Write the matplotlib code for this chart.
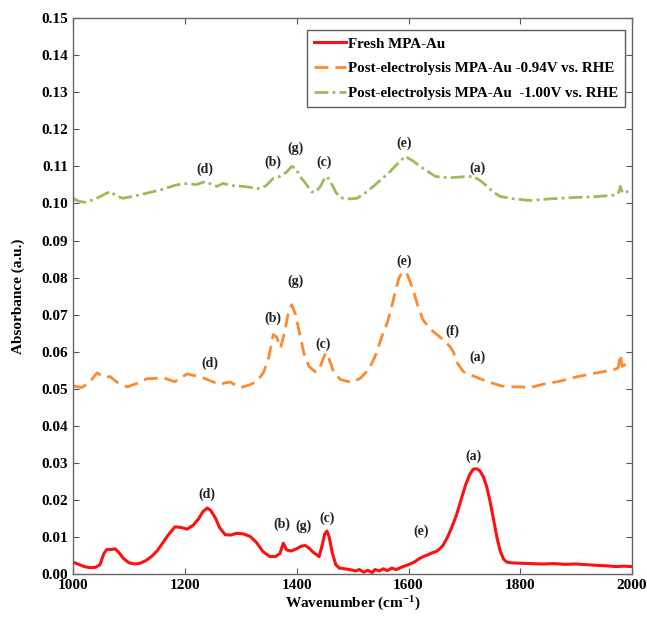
import matplotlib
matplotlib.use("Agg")
import matplotlib.pyplot as plt

plt.rcParams['font.family'] = ['Liberation Serif', 'DejaVu Serif']
plt.rcParams['font.weight'] = 'bold'
plt.rcParams['mathtext.fontset'] = 'custom'
plt.rcParams['mathtext.rm'] = 'Liberation Serif:bold'
plt.rcParams['mathtext.bf'] = 'Liberation Serif:bold'
plt.rcParams['mathtext.it'] = 'Liberation Serif:bold'
plt.rcParams['mathtext.default'] = 'rm'

fresh_points = [(1000,0.0032),(1010,0.0026),(1020,0.0020),(1030,0.0017),(1040,0.0018),(1048,0.0025),
    (1055,0.0055),(1060,0.0066),(1068,0.0066),(1075,0.0068),(1082,0.0058),(1090,0.0042),(1100,0.0030),
    (1111,0.0027),(1120,0.0029),(1130,0.0036),(1140,0.0047),(1150,0.0062),(1160,0.0083),(1170,0.0105),
    (1182,0.0127),(1192,0.0126),(1204,0.0121),(1215,0.0132),(1225,0.0150),(1232,0.0168),(1240,0.0178),
    (1246,0.0172),(1255,0.0150),(1262,0.0125),(1272,0.0106),(1282,0.0105),(1293,0.0110),(1305,0.0108),
    (1317,0.0101),(1328,0.0085),(1340,0.0060),(1352,0.0047),(1362,0.0047),(1370,0.0055),(1376,0.0083),
    (1382,0.0065),(1390,0.0062),(1400,0.0068),(1408,0.0075),(1415,0.0077),(1422,0.0070),(1430,0.0058),
    (1440,0.0047),(1446,0.0080),(1450,0.0108),(1454,0.0116),(1458,0.0100),(1464,0.0055),(1470,0.0025),
    (1476,0.0016),(1482,0.0015),(1490,0.0013),(1498,0.0011),(1505,0.0008),(1512,0.0012),(1520,0.0005),
    (1527,0.0010),(1535,0.0004),(1540,0.0012),(1548,0.0008),(1555,0.0014),(1562,0.0009),(1570,0.0016),
    (1578,0.0012),(1590,0.0020),(1600,0.0025),(1610,0.0032),(1620,0.0042),(1628,0.0048),(1635,0.0052),
    (1642,0.0057),(1650,0.0061),(1656,0.0068),(1662,0.0078),(1670,0.0100),(1678,0.0128),(1686,0.0160),
    (1694,0.0200),(1702,0.0240),(1710,0.0270),(1716,0.0283),(1722,0.0284),(1728,0.0278),(1734,0.0262),
    (1740,0.0235),(1746,0.0195),(1752,0.0148),(1758,0.0100),(1764,0.0062),(1770,0.0040),(1776,0.0032),
    (1785,0.0030),(1800,0.0029),(1820,0.0028),(1840,0.0027),(1860,0.0028),(1880,0.0026),(1900,0.0027),
    (1920,0.0025),(1940,0.0023),(1955,0.0022),(1970,0.0020),(1985,0.0021),(2000,0.0020)]

post094_points = [(1000,0.0508),(1015,0.0503),(1028,0.0515),(1043,0.0543),(1055,0.0530),(1066,0.0533),
    (1078,0.0518),(1097,0.0505),(1115,0.0515),(1132,0.0527),(1147,0.0528),(1161,0.0530),(1172,0.0524),
    (1182,0.0519),(1195,0.0532),(1204,0.0540),(1218,0.0535),(1233,0.0529),(1248,0.0520),(1263,0.0511),
    (1272,0.0516),(1281,0.0518),(1290,0.0510),(1300,0.0503),(1315,0.0510),(1329,0.0520),(1341,0.0545),
    (1350,0.0585),(1358,0.0646),(1364,0.0640),(1371,0.0610),(1378,0.0650),(1385,0.0705),(1391,0.0727),
    (1398,0.0700),(1405,0.0650),(1413,0.0595),(1422,0.0560),(1433,0.0546),(1440,0.0550),(1447,0.0580),
    (1452,0.0597),(1458,0.0580),(1466,0.0545),(1478,0.0525),(1490,0.0520),(1501,0.0517),(1515,0.0530),
    (1530,0.0555),(1543,0.0597),(1552,0.0640),(1562,0.0678),(1570,0.0722),(1576,0.0760),(1583,0.0800),
    (1590,0.0816),(1598,0.0808),(1608,0.0768),(1617,0.0722),(1626,0.0686),(1638,0.0662),(1651,0.0646),
    (1664,0.0630),(1674,0.0614),(1680,0.0600),(1687,0.0570),(1698,0.0546),(1710,0.0538),(1720,0.0532),
    (1733,0.0524),(1750,0.0515),(1765,0.0508),(1776,0.0505),(1800,0.0505),(1818,0.0503),(1840,0.0512),
    (1870,0.0520),(1895,0.0530),(1920,0.0538),(1945,0.0545),(1966,0.0551),(1975,0.0556),(1979,0.0592),
    (1982,0.0560),(1990,0.0568),(2000,0.0565)]

post100_points = [(1000,0.1014),(1010,0.1006),(1021,0.1003),(1040,0.1012),(1055,0.1024),(1066,0.1032),
    (1078,0.1020),(1089,0.1014),(1110,0.1020),(1138,0.1030),(1160,0.1038),(1180,0.1048),(1197,0.1054),
    (1221,0.1051),(1236,0.1059),(1247,0.1052),(1257,0.1046),(1268,0.1054),(1285,0.1048),(1304,0.1046),
    (1320,0.1043),(1334,0.1040),(1345,0.1048),(1358,0.1068),(1370,0.1073),(1382,0.1085),(1391,0.1100),
    (1398,0.1095),(1406,0.1073),(1418,0.1050),(1426,0.1032),(1433,0.1030),(1442,0.1045),(1450,0.1068),
    (1454,0.1073),(1460,0.1060),(1470,0.1030),(1478,0.1016),(1490,0.1012),(1508,0.1014),(1522,0.1028),
    (1537,0.1046),(1552,0.1066),(1567,0.1086),(1582,0.1110),(1594,0.1127),(1608,0.1115),(1621,0.1100),
    (1635,0.1086),(1648,0.1073),(1665,0.1070),(1680,0.1070),(1698,0.1072),(1716,0.1073),(1728,0.1062),
    (1741,0.1046),(1752,0.1030),(1764,0.1019),(1790,0.1012),(1818,0.1008),(1850,0.1012),(1895,0.1016),
    (1930,0.1018),(1966,0.1022),(1975,0.1026),(1979,0.1046),(1983,0.1028),(1992,0.1032),(2000,0.1030)]

series_names = ["Fresh MPA-Au",
                "Post-electrolysis MPA-Au -0.94V vs. RHE",
                "Post-electrolysis MPA-Au  -1.00V vs. RHE"]

fresh_labels = [("(d)",1240,0.0214),("(b)",1374,0.0135),("(g)",1413,0.0130),("(c)",1454,0.0151),
                ("(e)",1623,0.0116),("(a)",1716,0.0319)]
post094_labels = [("(d)",1245,0.0568),("(b)",1358,0.0689),("(g)",1397,0.0789),("(c)",1447,0.0619),
                  ("(e)",1592,0.0843),("(f)",1678,0.0654),("(a)",1723,0.0586)]
post100_labels = [("(d)",1236,0.1092),("(b)",1358,0.1110),("(g)",1397,0.1149),("(c)",1449,0.1110),
                  ("(e)",1592,0.1162),("(a)",1724,0.1095)]

x_ticks = [1000, 1200, 1400, 1600, 1800, 2000]
y_ticks = [0.00,0.01,0.02,0.03,0.04,0.05,0.06,0.07,0.08,0.09,0.10,0.11,0.12,0.13,0.14,0.15]

fig = plt.figure(figsize=(6.47, 6.21), dpi=100)
ax = fig.add_axes([0.113, 0.0757, 0.864, 0.895])

def xy(points):
    return [p[0] for p in points], [p[1] for p in points]

x, y = xy(fresh_points)
ax.plot(x, y, color='#ff1010', lw=2.2, label=series_names[0])
x, y = xy(post094_points)
ax.plot(x, y, color='#fb8a30', lw=2.0, dashes=(5, 2.5), label=series_names[1])
x, y = xy(post100_points)
ax.plot(x, y, color='#9bbb59', lw=2.0, dashes=(5, 1.5, 1, 1.5), label=series_names[2])

for labels in (fresh_labels, post094_labels, post100_labels):
    for t, lx, ly in labels:
        ax.text(lx, ly, t, ha='center', va='center', fontsize=10, fontweight='bold', color='#222222')

ax.set_xlim(1000, 2000)
ax.set_ylim(0, 0.15)
ax.set_xticks(x_ticks)
ax.set_yticks(y_ticks)
ax.set_xticklabels([str(v) for v in x_ticks])
ax.set_yticklabels([f"{v:.2f}" for v in y_ticks])
ax.tick_params(direction='in', top=True, right=True, labelsize=11, length=4, colors='#555555', labelcolor='black')
for lab in ax.get_xticklabels() + ax.get_yticklabels():
    lab.set_fontweight('bold')
for s in ax.spines.values():
    s.set_color('#666666')
    s.set_linewidth(1.0)

ax.set_xlabel("Wavenumber (cm$^{-1}$)", fontsize=11, fontweight='bold', labelpad=2)
ax.set_ylabel("Absorbance (a.u.)", fontsize=11, fontweight='bold', labelpad=12)

leg = ax.legend(loc='upper right', bbox_to_anchor=(0.987, 0.978), fontsize=10.8, frameon=True,
                fancybox=False, edgecolor='#333333', handlelength=2.1, handletextpad=0.15,
                borderpad=0.45, labelspacing=0.75, borderaxespad=0)
leg.get_frame().set_linewidth(1.0)
for t in leg.get_texts():
    t.set_fontweight('bold')

fig.savefig("out.png", dpi=100)
